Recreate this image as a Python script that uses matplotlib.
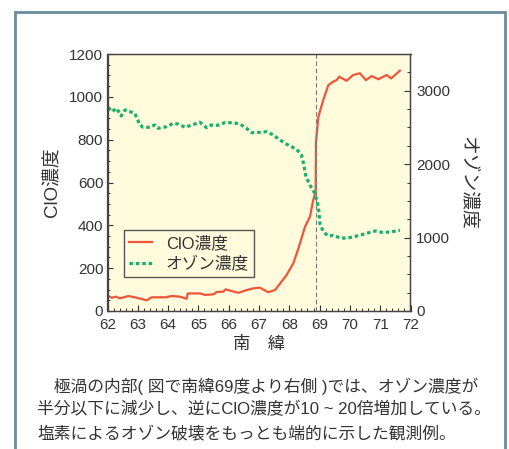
import matplotlib
matplotlib.use("Agg")
import matplotlib.pyplot as plt
from matplotlib.patches import Rectangle
from matplotlib.ticker import MultipleLocator

plt.rcParams['font.family'] = ['Liberation Sans', 'Noto Sans CJK JP', 'DejaVu Sans']

# ClO concentration (left axis)
clo_lat = [62.0, 62.14, 62.28, 62.41, 62.69, 62.96, 63.29, 63.46, 63.95, 64.1, 64.39,
           64.61, 64.65, 65.06, 65.22, 65.5, 65.6, 65.82, 65.9, 66.1, 66.32, 66.6,
           66.82, 67.03, 67.14, 67.31, 67.53, 67.7, 67.91, 68.13, 68.3, 68.52,
           68.68, 68.79, 68.87, 68.88, 68.96, 69.12, 69.29, 69.45, 69.56, 69.65,
           69.89, 70.11, 70.33, 70.53, 70.72, 70.94, 71.21, 71.36, 71.65]
clo_val = [72, 62, 67, 59, 70, 62, 50, 64, 64, 70, 67,
           57, 82, 82, 75, 78, 89, 90, 101, 93, 85, 98,
           106, 109, 100, 88, 98, 129, 168, 222, 292, 394,
           440, 518, 560, 790, 907, 985, 1055, 1071, 1078, 1094,
           1075, 1102, 1110, 1078, 1097, 1082, 1102, 1086, 1122]

# ozone concentration (right axis)
o3_lat = [62.03, 62.14, 62.3, 62.45, 62.58, 62.74, 62.9, 63.07, 63.18, 63.4, 63.56,
          63.67, 63.95, 64.17, 64.34, 64.56, 64.78, 65.05, 65.27, 65.43, 65.65,
          65.87, 66.15, 66.37, 66.59, 66.76, 67.03, 67.25, 67.47, 67.69, 67.96,
          68.24, 68.4, 68.48, 68.55, 68.68, 68.84, 68.96, 69.01, 69.12, 69.29,
          69.45, 69.72, 70.0, 70.27, 70.55, 70.83, 71.05, 71.32, 71.65]
o3_val = [2774, 2715, 2760, 2656, 2738, 2715, 2693, 2533, 2502, 2502, 2533,
          2488, 2510, 2556, 2545, 2502, 2533, 2570, 2497, 2533, 2530,
          2565, 2565, 2546, 2488, 2429, 2433, 2442, 2397, 2329, 2261,
          2202, 2125, 1990, 1830, 1716, 1603, 1421, 1194, 1080, 1021,
          1030, 990, 1000, 1026, 1058, 1090, 1072, 1075, 1099]

boundary_lat = 68.88

ax_bg = '#fffbdc'
red = '#f0553a'
green = '#16b26a'
dark = '#333333'

fig = plt.figure(figsize=(5.10, 4.49), dpi=100)
fig.patch.set_facecolor('white')

# frame around the figure
fig.patches.append(Rectangle((15 / 510, -0.05), 490 / 510, 1.05 - 12 / 449,
                             transform=fig.transFigure, fill=False,
                             edgecolor='#6a8c9e', linewidth=2))

ax = fig.add_axes([107.5 / 510, 1 - 311 / 449, 303 / 510, 257 / 449])
ax.set_facecolor(ax_bg)
ax2 = ax.twinx()

l1, = ax.plot(clo_lat, clo_val, color=red, lw=1.6, label='ClO濃度')
l2, = ax2.plot(o3_lat, o3_val, color=green, lw=2.3, ls=(0, (1.1, 0.9)), label='オゾン濃度')
ax.axvline(boundary_lat, color='#777777', lw=0.8, ls=(0, (4, 2.5)))

ax.set_xlim(62, 72)
ax.set_ylim(0, 1200)
ax2.set_ylim(0, 3500)
ax.xaxis.set_major_locator(MultipleLocator(1))
ax.xaxis.set_minor_locator(MultipleLocator(0.2))
ax.yaxis.set_major_locator(MultipleLocator(200))
ax.yaxis.set_minor_locator(MultipleLocator(50))
ax2.yaxis.set_major_locator(MultipleLocator(1000))
ax2.yaxis.set_minor_locator(MultipleLocator(250))

for a in (ax, ax2):
    a.tick_params(which='both', direction='in', colors=dark, labelsize=11)
    a.tick_params(which='major', length=4, width=0.8)
    a.tick_params(which='minor', length=2.5, width=0.7)
    for s in a.spines.values():
        s.set_color('#444444')
        s.set_linewidth(0.9)
ax.tick_params(axis='y', pad=3)
ax.tick_params(axis='x', pad=5)
ax2.tick_params(axis='y', pad=4)

ax.set_xlabel('南　緯', fontsize=12.5, color=dark, labelpad=3)
ax.set_ylabel('ClO濃度', fontsize=13.5, color=dark, labelpad=6)
ax2.set_ylabel('オゾン濃度', fontsize=13.5, color=dark, rotation=270, labelpad=19)

leg = ax.legend([l1, l2], ['ClO濃度', 'オゾン濃度'], loc='upper left',
                bbox_to_anchor=(0.055, 0.315), borderaxespad=0, fontsize=12,
                fancybox=False, framealpha=1, facecolor=ax_bg, edgecolor='#555555',
                handlelength=1.4, handletextpad=0.8, borderpad=0.3, labelspacing=0.3)
leg.get_frame().set_linewidth(1.0)
for t in leg.get_texts():
    t.set_color(dark)

caption = ['　極渦の内部( 図で南緯69度より右側 )では、オゾン濃度が',
           '半分以下に減少し、逆にClO濃度が10 ~ 20倍増加している。',
           '塩素によるオゾン破壊をもっとも端的に示した観測例。']
for i, line in enumerate(caption):
    fig.text(37 / 510, 1 - (386 + 23.5 * i) / 449, line, fontsize=12.1,
             color=dark, va='center', ha='left')

fig.savefig('out.png', dpi=100)
